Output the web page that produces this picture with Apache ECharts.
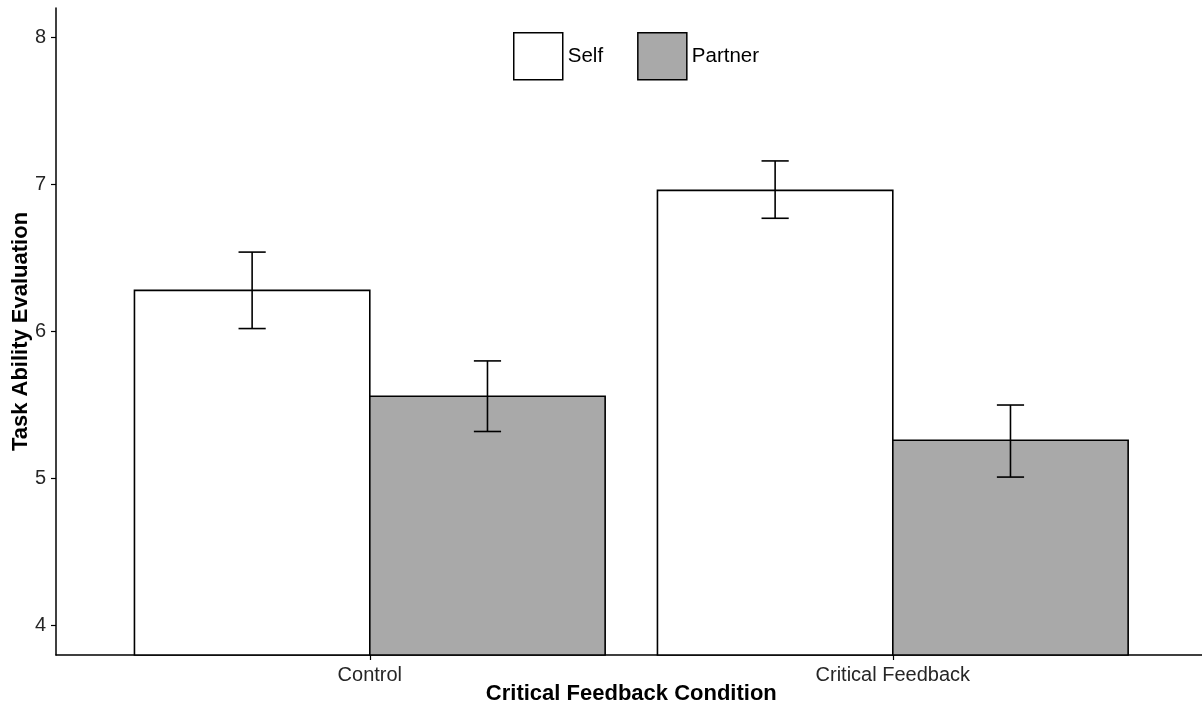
<!DOCTYPE html>
<html>
<head>
<meta charset="utf-8">
<script src="https://cdn.jsdelivr.net/npm/echarts@6/dist/echarts.min.js"></script>
<style>
html,body{margin:0;padding:0;background:#fff;}
#chart{width:1202px;height:711px;}
</style>
</head>
<body>
<div id="chart"></div>
<script>
const categories = ['Control', 'Critical Feedback'];
const seriesNames = ['Self', 'Partner'];
const selfMean = [6.28, 6.96];
const selfLower = [6.02, 6.77];
const selfUpper = [6.54, 7.16];
const partnerMean = [5.56, 5.26];
const partnerLower = [5.32, 5.01];
const partnerUpper = [5.80, 5.50];
const yTicks = [4, 5, 6, 7, 8];
const xTicks = [1, 2];

const colors = ['#ffffff', '#a9a9a9'];
const means = [selfMean, partnerMean];
const lowers = [selfLower, partnerLower];
const uppers = [selfUpper, partnerUpper];

const Y_MIN = 3.8, Y_MAX = 8.2;
const DODGE = 0.9, BAR_W = DODGE / 2, CAP = 0.026;
const FONT = 'Liberation Sans, Arial, Helvetica, sans-serif';

function barSeries(si) {
  return {
    name: seriesNames[si],
    type: 'custom',
    itemStyle: { color: colors[si], borderColor: '#000', borderWidth: 1.5 },
    data: categories.map((c, ci) => [ci, means[si][ci]]),
    renderItem: function (params, api) {
      const ci = api.value(0), v = api.value(1);
      const center = ci + 1 + (si === 0 ? -BAR_W / 2 : BAR_W / 2);
      const p0 = api.coord([center - BAR_W / 2, v]);
      const p1 = api.coord([center + BAR_W / 2, Y_MIN]);
      return {
        type: 'rect',
        shape: { x: p0[0], y: p0[1], width: p1[0] - p0[0], height: p1[1] - p0[1] },
        style: { fill: colors[si], stroke: '#000', lineWidth: 1.6 }
      };
    },
    z: 2
  };
}

function errSeries(si) {
  return {
    name: seriesNames[si] + ' SE',
    type: 'custom',
    data: categories.map((c, ci) => [ci, lowers[si][ci], uppers[si][ci]]),
    renderItem: function (params, api) {
      const ci = api.value(0), lo = api.value(1), hi = api.value(2);
      const center = ci + 1 + (si === 0 ? -BAR_W / 2 : BAR_W / 2);
      const top = api.coord([center, hi]);
      const bot = api.coord([center, lo]);
      const tl = api.coord([center - CAP, hi]);
      const tr = api.coord([center + CAP, hi]);
      const bl = api.coord([center - CAP, lo]);
      const br = api.coord([center + CAP, lo]);
      const st = { stroke: '#000', lineWidth: 1.6 };
      return {
        type: 'group',
        children: [
          { type: 'line', shape: { x1: top[0], y1: top[1], x2: bot[0], y2: bot[1] }, style: st },
          { type: 'line', shape: { x1: tl[0], y1: tl[1], x2: tr[0], y2: tr[1] }, style: st },
          { type: 'line', shape: { x1: bl[0], y1: bl[1], x2: br[0], y2: br[1] }, style: st }
        ]
      };
    },
    z: 3
  };
}

const chart = echarts.init(document.getElementById('chart'), null, { renderer: 'canvas' });
const axisFont = { fontFamily: FONT, fontSize: 20, color: '#262626' };

chart.setOption({
  animation: false,
  backgroundColor: '#fff',
  grid: { left: 56, top: 8, width: 1150.6, height: 647, containLabel: false, outerBoundsMode: 'none' },
  legend: {
    left: 513, top: 32, padding: 0,
    itemWidth: 49, itemHeight: 47, itemGap: 34,
    icon: 'rect',
    textStyle: { fontFamily: FONT, fontSize: 20.5, color: '#000' },
    data: seriesNames.map((n, i) => ({ name: n, itemStyle: { color: colors[i], borderColor: '#000', borderWidth: 1.5 } }))
  },
  xAxis: {
    type: 'value', min: 0.4, max: 2.6,
    name: 'Critical Feedback Condition', nameLocation: 'middle', nameGap: 28, nameMoveOverlap: false,
    nameTextStyle: { fontFamily: FONT, fontSize: 22, fontWeight: 'bold', color: '#000' },
    axisLine: { show: true, lineStyle: { color: '#000', width: 1.5 } },
    axisTick: { show: true, customValues: xTicks, length: 5, lineStyle: { color: '#000', width: 1.2 } },
    axisLabel: Object.assign({ customValues: xTicks, margin: 10, formatter: v => categories[Math.round(v) - 1] }, axisFont),
    splitLine: { show: false }
  },
  yAxis: {
    type: 'value', min: Y_MIN, max: Y_MAX,
    name: 'Task Ability Evaluation', nameLocation: 'middle', nameGap: 24, nameRotate: 90, nameMoveOverlap: false,
    nameTextStyle: { fontFamily: FONT, fontSize: 22, fontWeight: 'bold', color: '#000' },
    axisLine: { show: true, lineStyle: { color: '#000', width: 1.5 } },
    axisTick: { show: true, customValues: yTicks, length: 5, lineStyle: { color: '#000', width: 1.2 } },
    axisLabel: Object.assign({ customValues: yTicks, margin: 10 }, axisFont),
    splitLine: { show: false }
  },
  series: [barSeries(0), barSeries(1), errSeries(0), errSeries(1)]
});
</script>
</body>
</html>
